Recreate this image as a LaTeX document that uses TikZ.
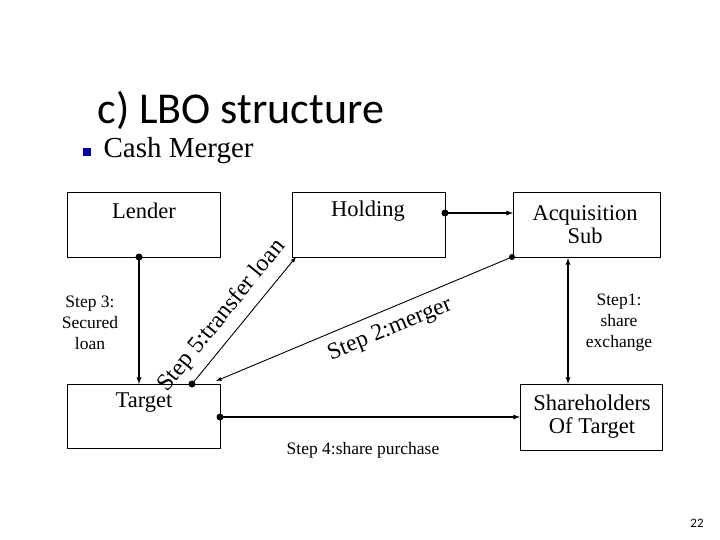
\documentclass[tikz,border=0pt]{standalone}
\usepackage{fontspec}
\setmainfont{Liberation Serif}
\newfontfamily\tsans{Carlito}
\begin{document}
\begin{tikzpicture}[x=1pt,y=-1pt,
  box/.style={draw,line width=0.6pt,inner sep=0pt},
  lab/.style={font=\fontsize{22.5}{25}\selectfont,align=center},
  sm/.style={font=\fontsize{17.5}{21}\selectfont,align=center},
  con/.style={line width=1.3pt,-latex},
  dot/.style={circle,fill,inner sep=0pt,minimum size=7pt}]
\useasboundingbox (0,0) rectangle (720,540);
\node[font=\tsans\fontsize{44}{48}\selectfont,anchor=west] (title) at (94,110) {c) LBO structure};
\node[fill=blue!70!black,minimum size=8pt,inner sep=0pt] (bul) at (87,152) {};
\node[font=\fontsize{29}{32}\selectfont,anchor=west] (cm) at (100,151) {Cash Merger};
\draw[box] (67,192) rectangle (220,257);
\draw[box] (292,192) rectangle (445,257);
\draw[box] (513,192) rectangle (660,257);
\draw[box] (67,384) rectangle (220,448);
\draw[box] (520,384) rectangle (662,450);
\node[lab] (lender) at (144,211) {Lender};
\node[lab] (holding) at (368,211) {Holding};
\node[lab] (acq) at (585,225) {Acquisition\\[-2pt]Sub};
\node[lab] (target) at (144,403) {Target};
\node[lab] (sh) at (592,417) {Shareholders\\[-2pt]Of Target};
\coordinate (l1) at (139,257); \coordinate (t1) at (139,384);
\coordinate (t2) at (192,384); \coordinate (h1) at (296,257);
\coordinate (a1) at (512,257); \coordinate (t3) at (216,381);
\coordinate (h2) at (445,213); \coordinate (a2) at (513,213);
\coordinate (a3) at (568,258); \coordinate (s1) at (568,384);
\coordinate (t4) at (220,417); \coordinate (s2) at (520,417);
\node[dot] at (l1) {}; \draw[con] (l1) -- (t1);
\node[dot] at (t2) {}; \draw[line width=0.9pt,-latex] (t2) -- (h1);
\node[dot,minimum size=6pt] at (a1) {}; \draw[line width=0.9pt,-latex] (a1) -- (t3);
\node[dot] at (h2) {}; \draw[con] (h2) -- (a2);
\draw[line width=1.3pt,latex-latex] (a3) -- (s1);
\node[dot] at (t4) {}; \draw[con] (t4) -- (s2);
\node[sm] (s3) at (90,323) {Step 3:\\Secured\\loan};
\node[lab,font=\fontsize{24}{26}\selectfont,rotate=51] (s5) at (222,316) {Step 5:transfer loan};
\node[lab,font=\fontsize{23.5}{26}\selectfont,rotate=22.6] (s2l) at (390,330) {Step 2:merger};
\node[sm] (s1l) at (619,323) {Step1:\\share\\exchange};
\node[sm] (s4) at (363,450) {Step 4:share purchase};
\node[font=\tsans\fontsize{13}{15}\selectfont] (pg) at (697,523) {22};
\end{tikzpicture}
\end{document}
